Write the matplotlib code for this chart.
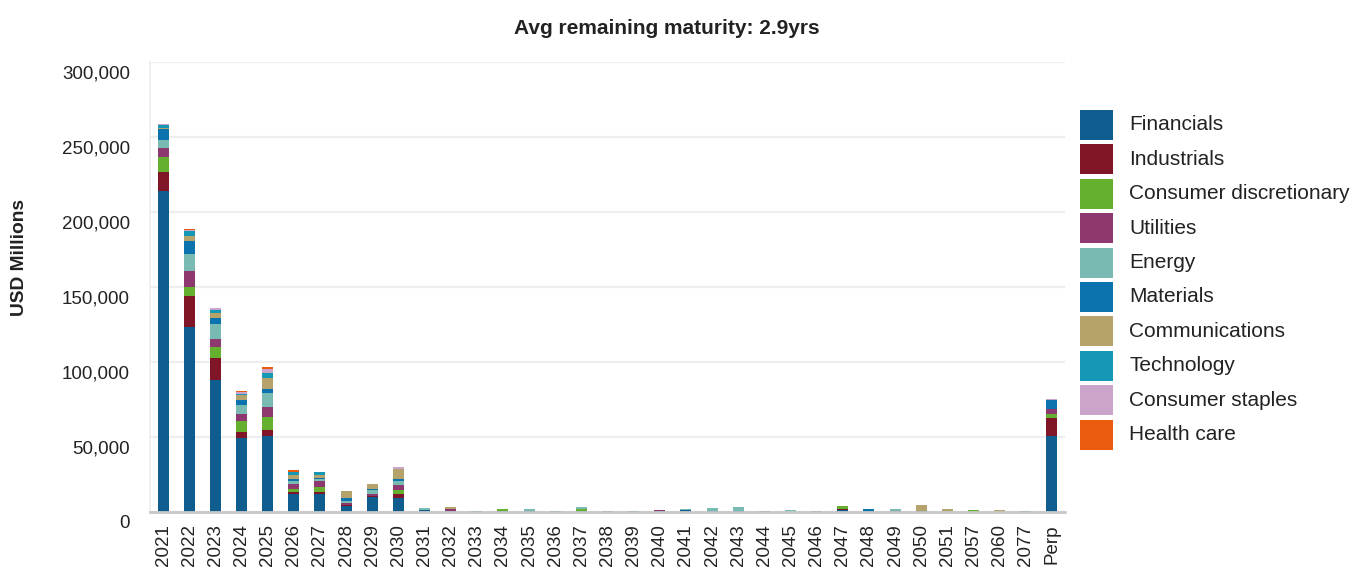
import matplotlib.pyplot as plt
import matplotlib.transforms as mtransforms
from matplotlib.patches import Rectangle
from matplotlib.ticker import FuncFormatter
import numpy as np

plt.rcParams['font.family'] = ['Liberation Sans', 'DejaVu Sans']

# maturity buckets
years = [str(y) for y in range(2021, 2052)] + ['2057', '2060', '2077', 'Perp']

# amounts per sector, USD millions (one value per bucket above)
financials = [213800, 123100, 87800, 49100, 50500, 11800, 11800, 4000, 9800, 9100,
              1500, 700, 600, 700, 700, 900, 700, 700, 700, 600,
              1100, 700, 500, 0, 0, 900, 1300, 900, 0, 900,
              0, 0, 0, 700, 51000]
industrials = [12700, 20700, 14700, 4000, 4000, 1300, 1300, 500, 700, 2700,
               0, 0, 0, 0, 0, 0, 0, 0, 0, 0,
               0, 0, 0, 0, 0, 0, 400, 0, 0, 0,
               0, 0, 0, 0, 11700]
consumer_disc = [10000, 6000, 7300, 7300, 8700, 2000, 3300, 0, 0, 2700,
                 0, 0, 0, 1100, 0, 0, 1300, 0, 0, 0,
                 0, 0, 0, 0, 0, 0, 2000, 0, 0, 0,
                 0, 1100, 0, 0, 2700]
utilities = [6000, 10700, 5300, 4700, 6700, 3300, 4000, 1300, 1300, 3300,
             0, 1100, 0, 0, 0, 0, 0, 0, 0, 500,
             0, 0, 400, 500, 0, 0, 0, 0, 700, 0,
             0, 0, 0, 0, 3000]
energy = [5300, 11300, 10000, 6000, 9300, 2000, 1300, 1300, 2700, 2700,
          1500, 0, 400, 0, 1100, 0, 1100, 0, 300, 0,
          700, 1800, 2200, 0, 1100, 0, 600, 0, 1100, 0,
          500, 0, 0, 0, 0]
materials = [7300, 8700, 4000, 3300, 2700, 1300, 1300, 2000, 700, 1300,
             0, 0, 0, 0, 0, 0, 0, 0, 0, 0,
             0, 0, 0, 0, 0, 0, 0, 900, 500, 0,
             0, 0, 0, 0, 6400]
communications = [900, 3800, 3300, 3300, 7300, 2700, 2000, 4700, 3300, 6700,
                  0, 1300, 0, 0, 0, 0, 0, 300, 0, 0,
                  0, 0, 0, 0, 0, 0, 0, 0, 0, 3500,
                  1800, 0, 1100, 0, 0]
technology = [1800, 3100, 2000, 1300, 3300, 2000, 2000, 0, 0, 0,
              0, 0, 0, 0, 0, 0, 0, 0, 0, 0,
              0, 0, 0, 0, 0, 0, 0, 0, 0, 0,
              0, 0, 0, 0, 0]
consumer_staples = [700, 700, 1300, 1300, 2700, 0, 0, 0, 0, 1300,
                    0, 0, 0, 0, 0, 0, 0, 0, 0, 0,
                    0, 0, 0, 0, 0, 0, 0, 0, 0, 0,
                    0, 0, 0, 0, 300]
health_care = [300, 700, 0, 700, 1300, 1300, 0, 0, 0, 0,
               0, 0, 0, 0, 0, 0, 0, 0, 0, 0,
               0, 0, 0, 0, 0, 0, 0, 0, 0, 0,
               0, 0, 0, 0, 0]

sectors = ['Financials', 'Industrials', 'Consumer discretionary', 'Utilities', 'Energy',
           'Materials', 'Communications', 'Technology', 'Consumer staples', 'Health care']
series = [financials, industrials, consumer_disc, utilities, energy,
          materials, communications, technology, consumer_staples, health_care]
colors = ['#0f5d8e', '#7f1526', '#66b030', '#8e3870', '#79bab3',
          '#0b74ae', '#b5a36b', '#1598b5', '#caa4cb', '#ea5b10']

W, H = 1356, 568
fig = plt.figure(figsize=(W / 100, H / 100), dpi=100)
ax = fig.add_axes([150 / W, 56 / H, 915 / W, 450 / H])

x = np.arange(len(years))
bottom = np.zeros(len(years))
for vals, col in zip(series, colors):
    v = np.array(vals, dtype=float)
    ax.bar(x, v, 0.42, bottom=bottom, color=col, linewidth=0, zorder=3)
    bottom += v

ax.set_xlim(-0.5, len(years) - 0.5)
ax.set_ylim(0, 300000)
ax.set_yticks(np.arange(0, 300001, 50000))
ax.yaxis.set_major_formatter(FuncFormatter(lambda v, p: f'{int(v):,}'))
ax.set_xticks(x)
ax.set_xticklabels(years, rotation=90, fontsize=13.5, color='#222222')

ax.grid(axis='y', color='#eeeeee', linewidth=1.6, zorder=0)
ax.tick_params(axis='y', length=0, pad=14.5, labelsize=13.5, labelcolor='#222222')
ax.tick_params(axis='x', length=0, pad=9)

# y labels sit a little below their gridlines
offset = mtransforms.ScaledTranslation(0, -0.10, fig.dpi_scale_trans)
for lbl in ax.get_yticklabels():
    lbl.set_transform(lbl.get_transform() + offset)

for s in ['top', 'right']:
    ax.spines[s].set_visible(False)
ax.spines['left'].set_color('#eeeeee')
ax.spines['left'].set_linewidth(1.2)
ax.spines['bottom'].set_color('#c8c8c8')
ax.spines['bottom'].set_linewidth(2)
ax.spines['bottom'].set_zorder(4)

fig.text(20 / W, 1 - 258 / H, 'USD Millions', rotation=90, ha='center', va='center',
         fontsize=13.8, fontweight='bold', color='#222222')
fig.text(667 / W, 1 - 28 / H, 'Avg remaining maturity: 2.9yrs', ha='center', va='center',
         fontsize=15, fontweight='bold', color='#222222')

# legend, one swatch per sector
for i, (name, col) in enumerate(zip(sectors, colors)):
    yc = 125 + 34.4 * i
    fig.add_artist(Rectangle((1080 / W, 1 - (yc + 15) / H), 33 / W, 30 / H,
                             transform=fig.transFigure, facecolor=col, edgecolor='none'))
    fig.text(1129 / W, 1 - yc / H, name, ha='left', va='center',
             fontsize=15, color='#222222')

fig.savefig('out.png', dpi=100)
